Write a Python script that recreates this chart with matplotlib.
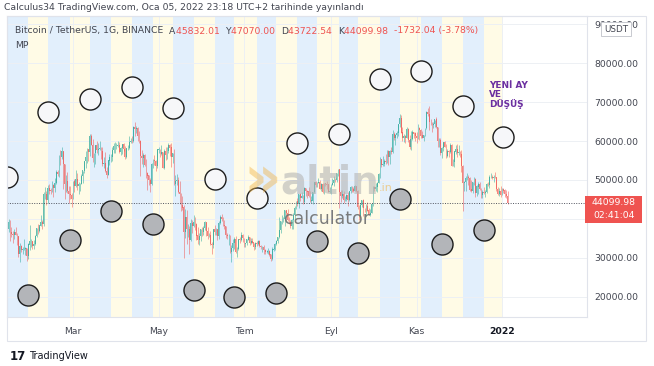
import matplotlib
matplotlib.use("Agg")
import matplotlib.pyplot as plt
import matplotlib.dates as mdates
from matplotlib.patches import Rectangle
import numpy as np

# ---------------- data (prices in thousand USDT) ----------------
first_open = 34.0
c_2021_01 = [37.4, 39.1, 36.7, 36.0, 35.8, 36.6, 35.9, 35.5, 30.9, 32.9, 32.1, 32.3, 32.3, 32.5, 30.4, 33.4, 34.3, 34.3, 33.1]
h_2021_01 = [37.6, 40.1, 39.7, 37.9, 36.8, 37.3, 37.8, 36.4, 35.6, 33.8, 33.4, 32.9, 34.9, 32.9, 32.6, 33.8, 38.5, 34.9, 34.3]
l_2021_01 = [32.4, 36.7, 34.4, 35.4, 33.9, 34.8, 35.8, 33.4, 30.1, 28.9, 31.4, 30.9, 31.9, 30.8, 29.2, 29.8, 31.9, 32.9, 32.3]

c_2021_02 = [33.5, 35.5, 37.6, 36.9, 38.3, 39.2, 38.8, 46.4, 46.4, 44.8, 48.0, 47.3, 47.2, 48.6, 47.9, 49.1, 52.1, 51.6, 55.9, 55.8, 57.4, 54.1, 48.9, 49.7, 47.1, 46.3, 46.1, 45.1]
h_2021_02 = [34.7, 35.9, 37.7, 38.7, 38.3, 40.9, 39.7, 46.8, 48.2, 47.3, 48.6, 48.9, 48.0, 49.7, 49.0, 50.6, 52.6, 52.5, 56.3, 57.6, 58.4, 57.5, 54.2, 51.4, 52.0, 48.4, 48.4, 46.7]
l_2021_02 = [32.3, 33.4, 35.4, 36.2, 36.6, 38.2, 37.4, 38.1, 45.0, 43.7, 44.0, 46.3, 46.3, 47.0, 45.6, 47.0, 48.9, 50.9, 50.7, 53.9, 55.5, 47.6, 45.0, 47.0, 46.7, 44.1, 45.0, 43.0]

c_2021_03 = [49.6, 48.4, 50.3, 48.4, 48.8, 48.9, 51.0, 52.4, 54.9, 55.9, 57.8, 57.2, 61.2, 59.0, 55.6, 56.9, 58.9, 57.6, 58.0, 58.1, 57.4, 54.1, 54.3, 52.3, 51.3, 55.0, 55.8, 55.8, 57.6, 58.7, 58.7]
h_2021_03 = [49.8, 50.2, 52.6, 51.8, 49.4, 49.2, 51.5, 52.4, 54.9, 57.4, 58.2, 58.0, 61.8, 61.7, 60.6, 56.9, 58.9, 60.1, 59.5, 59.9, 58.6, 58.4, 55.8, 57.2, 53.3, 55.1, 56.6, 56.6, 58.4, 59.4, 59.8]
l_2021_03 = [45.0, 47.0, 48.1, 47.5, 46.3, 47.1, 48.9, 49.3, 51.8, 53.0, 54.3, 55.0, 56.1, 58.9, 54.6, 53.3, 54.1, 57.0, 56.3, 57.8, 55.5, 53.7, 53.0, 52.0, 50.4, 51.3, 53.9, 54.7, 54.9, 57.0, 56.9]

c_2021_04 = [58.7, 59.0, 57.1, 58.2, 59.1, 58.0, 56.0, 58.1, 58.1, 59.8, 60.0, 59.9, 63.6, 63.0, 63.2, 61.3, 60.0, 56.2, 55.6, 56.4, 53.8, 51.7, 51.1, 50.0, 49.0, 54.0, 55.0, 54.8, 53.6, 57.8]
h_2021_04 = [59.5, 60.0, 59.8, 58.5, 59.3, 59.5, 58.7, 58.2, 58.9, 61.2, 60.7, 61.2, 63.8, 64.9, 63.8, 63.6, 62.5, 60.4, 57.6, 57.0, 56.8, 55.5, 52.1, 51.2, 50.6, 54.4, 55.5, 56.4, 55.2, 57.9]
l_2021_04 = [57.9, 58.4, 57.0, 56.5, 56.8, 57.4, 55.5, 55.7, 57.7, 57.9, 59.4, 59.4, 59.8, 61.3, 62.0, 60.0, 59.6, 51.0, 54.2, 53.4, 53.6, 50.4, 47.5, 48.8, 47.0, 48.8, 53.2, 53.9, 52.3, 53.1]

c_2021_05 = [57.8, 56.6, 57.2, 53.2, 57.5, 56.4, 57.4, 58.9, 58.3, 55.9, 56.8, 49.0, 49.7, 49.9, 46.8, 46.5, 43.5, 42.9, 36.7, 40.5, 37.3, 37.4, 34.7, 38.8, 38.3, 39.2, 38.5, 35.7, 34.6, 35.6, 37.3]
h_2021_05 = [58.5, 57.9, 58.9, 57.2, 57.9, 58.4, 58.6, 59.5, 59.3, 59.6, 57.0, 58.0, 51.4, 51.6, 50.7, 49.8, 46.6, 45.8, 43.6, 42.5, 42.2, 38.8, 38.3, 39.9, 39.8, 40.9, 40.4, 38.9, 37.9, 36.4, 37.5]
l_2021_05 = [57.0, 56.0, 56.5, 53.0, 52.9, 55.2, 55.3, 56.9, 56.2, 53.4, 54.4, 48.6, 46.0, 48.8, 46.6, 43.8, 42.0, 42.2, 30.0, 35.0, 33.5, 35.3, 31.1, 34.4, 36.4, 37.8, 37.2, 34.7, 33.6, 33.4, 34.2]

c_2021_06 = [36.7, 37.6, 39.2, 36.8, 35.5, 35.8, 33.6, 33.4, 37.4, 36.7, 37.3, 35.5, 39.0, 40.5, 40.1, 38.3, 38.1, 35.8, 35.5, 35.6, 31.6, 32.5, 33.7, 34.7, 31.6, 32.3, 34.7, 34.5, 35.9, 35.0]
h_2021_06 = [37.9, 38.2, 39.5, 39.3, 37.9, 36.5, 36.8, 34.1, 37.5, 38.4, 37.7, 37.4, 39.4, 41.1, 41.3, 40.5, 39.6, 38.2, 36.5, 36.1, 35.8, 33.3, 34.9, 35.3, 35.5, 32.7, 34.8, 35.3, 36.6, 36.1]
l_2021_06 = [35.7, 35.9, 37.2, 35.6, 34.8, 35.3, 33.4, 31.0, 32.4, 35.8, 35.9, 34.6, 34.8, 38.8, 39.5, 38.1, 37.4, 35.1, 34.8, 33.3, 31.3, 28.8, 31.7, 32.3, 31.3, 30.2, 32.0, 33.9, 34.2, 34.0]

c_2021_07 = [33.5, 33.8, 34.7, 35.3, 33.7, 34.2, 33.9, 32.9, 33.8, 33.5, 34.3, 33.1, 32.7, 32.8, 31.9, 31.4, 31.5, 31.8, 30.8, 29.8, 32.1, 32.3, 33.6, 34.3, 35.4, 37.2, 39.5, 40.0, 40.0, 42.2, 41.5]
h_2021_07 = [35.1, 33.9, 34.9, 35.9, 35.3, 35.1, 35.1, 33.9, 34.1, 34.3, 34.6, 34.7, 33.3, 33.1, 33.2, 32.2, 31.9, 32.4, 31.9, 31.1, 32.9, 32.6, 33.7, 34.5, 35.4, 40.6, 39.5, 40.9, 40.6, 42.3, 42.4]
l_2021_07 = [32.7, 32.7, 33.3, 34.5, 33.2, 33.5, 33.8, 32.1, 32.3, 33.0, 33.3, 32.7, 32.2, 31.6, 31.1, 31.0, 31.2, 31.1, 30.4, 29.3, 29.5, 31.7, 32.0, 33.4, 33.9, 35.2, 36.4, 38.8, 39.3, 38.3, 41.0]

c_2021_08 = [39.8, 39.1, 38.2, 39.7, 40.9, 42.8, 44.6, 43.8, 46.3, 45.5, 45.8, 44.3, 47.8, 47.1, 47.0, 45.9, 44.7, 44.7, 46.8, 49.3, 48.8, 49.2, 49.5, 47.7, 49.0, 46.9, 49.1, 48.9, 48.8, 47.0, 47.1]
h_2021_08 = [42.6, 40.5, 39.8, 39.9, 41.4, 43.4, 44.7, 45.3, 46.5, 46.7, 46.8, 46.2, 48.1, 48.0, 47.4, 48.1, 47.2, 46.0, 47.0, 49.4, 49.8, 49.5, 50.5, 49.9, 49.2, 49.3, 49.2, 49.3, 49.7, 48.9, 48.3]
l_2021_08 = [39.4, 38.7, 37.6, 37.5, 37.3, 39.9, 42.5, 43.4, 42.8, 44.7, 45.3, 43.8, 44.2, 45.9, 45.5, 45.7, 44.4, 44.2, 43.9, 46.6, 48.3, 48.1, 49.1, 47.6, 47.2, 46.6, 46.4, 48.4, 47.8, 46.9, 46.7]

c_2021_09 = [48.8, 49.2, 50.0, 49.9, 51.8, 52.7, 46.9, 46.0, 46.4, 44.8, 45.2, 46.0, 44.9, 47.1, 48.1, 47.7, 47.3, 48.3, 47.2, 43.0, 40.7, 43.5, 44.9, 42.8, 42.7, 43.2, 42.1, 41.0, 41.5, 43.8]
h_2021_09 = [49.0, 50.4, 51.0, 50.6, 51.9, 52.8, 52.9, 47.4, 47.4, 47.1, 45.9, 46.4, 46.9, 47.3, 48.5, 48.5, 48.2, 48.8, 48.4, 47.4, 43.6, 44.0, 44.9, 45.0, 42.9, 43.9, 44.4, 42.8, 42.6, 44.1]
l_2021_09 = [46.5, 48.6, 48.4, 49.4, 49.5, 50.9, 42.8, 44.4, 45.5, 44.1, 44.7, 44.7, 43.4, 44.7, 46.7, 47.0, 46.8, 47.1, 46.8, 42.5, 39.6, 40.6, 43.1, 40.7, 41.7, 40.8, 42.1, 40.9, 40.8, 41.4]

c_2021_10 = [48.1, 47.6, 48.2, 49.2, 51.5, 55.3, 53.8, 54.0, 54.9, 54.7, 57.5, 56.0, 57.4, 57.3, 61.7, 60.9, 61.5, 62.0, 64.3, 66.0, 62.2, 60.7, 61.3, 60.9, 63.1, 60.3, 58.4, 60.6, 62.3, 61.9, 61.3]
h_2021_10 = [48.5, 48.4, 49.2, 49.5, 51.9, 55.8, 55.3, 56.1, 55.5, 56.6, 57.8, 57.7, 57.8, 58.5, 62.9, 62.4, 61.7, 62.6, 64.5, 67.0, 66.6, 63.7, 61.7, 61.5, 63.7, 63.3, 61.5, 62.5, 62.9, 62.3, 62.4]
l_2021_10 = [43.3, 47.1, 47.2, 46.9, 49.1, 50.4, 53.4, 53.6, 53.7, 54.1, 54.4, 53.9, 54.2, 56.8, 56.9, 60.2, 58.9, 60.9, 61.3, 63.5, 62.0, 60.0, 59.7, 59.5, 60.7, 59.8, 58.0, 57.8, 60.2, 60.7, 59.9]

c_2021_11 = [60.9, 63.2, 62.9, 61.4, 60.9, 61.5, 63.3, 67.5, 66.9, 64.9, 64.8, 64.1, 64.4, 65.5, 63.6, 60.1, 60.3, 56.9, 58.1, 59.7, 58.6, 56.2, 57.5, 57.1, 59.0, 53.7, 54.7, 57.3, 57.8, 57.0]
h_2021_11 = [62.4, 64.3, 63.5, 63.1, 62.6, 61.6, 63.3, 67.8, 68.5, 69.0, 65.6, 65.0, 64.9, 65.5, 66.3, 63.6, 60.8, 60.9, 58.4, 59.8, 60.0, 59.3, 57.9, 57.8, 59.4, 59.2, 55.3, 57.4, 58.9, 59.2]
l_2021_11 = [59.4, 60.6, 60.4, 60.7, 60.7, 60.1, 61.4, 63.1, 66.4, 62.8, 64.1, 62.3, 63.3, 63.6, 63.4, 58.6, 58.4, 56.5, 55.6, 57.4, 58.5, 55.6, 55.8, 55.9, 57.0, 53.5, 53.6, 53.3, 56.7, 55.9]

c_2021_12 = [57.2, 56.5, 53.6, 49.2, 49.4, 50.4, 50.6, 50.5, 47.5, 47.1, 49.4, 50.1, 46.7, 48.3, 48.9, 47.6, 46.1, 46.8, 46.7, 46.9, 48.9, 48.6, 50.8, 50.8, 50.4, 50.8, 50.6, 47.6, 46.5, 47.1, 46.2]
h_2021_12 = [59.0, 57.4, 57.6, 53.9, 49.7, 50.9, 51.9, 51.2, 50.8, 50.1, 49.5, 50.8, 50.4, 48.7, 49.5, 49.4, 48.0, 47.4, 48.3, 47.5, 49.3, 49.6, 51.4, 51.9, 51.2, 51.3, 52.1, 50.7, 48.1, 47.9, 48.5]
l_2021_12 = [56.5, 55.8, 52.0, 42.0, 47.1, 47.1, 50.0, 48.6, 47.3, 46.9, 46.6, 48.6, 45.7, 46.0, 46.5, 47.5, 45.5, 45.5, 46.4, 45.6, 46.6, 48.4, 48.0, 50.4, 50.2, 49.5, 50.5, 47.3, 46.1, 45.9, 45.7]

c_2022_01 = [47.7, 47.3, 46.4, 45.83201, 44.09998]
h_2022_01 = [47.9, 47.9, 47.6, 47.5, 47.07]
l_2022_01 = [46.2, 46.7, 45.7, 45.5, 43.72254]

first_day = "2021-01-13"

# moon phases: new moon (white circle), full moon (grey circle), circle level in k USDT
new_moon_dates = ["2021-01-13", "2021-02-11", "2021-03-13", "2021-04-12", "2021-05-11", "2021-06-10",
                  "2021-07-10", "2021-08-08", "2021-09-07", "2021-10-06", "2021-11-04", "2021-12-04", "2022-01-02"]
new_moon_level = [50.8, 67.5, 70.8, 73.9, 68.5, 50.3, 45.4, 59.5, 61.8, 76.0, 78.0, 69.0, 61.0]
full_moon_dates = ["2021-01-28", "2021-02-27", "2021-03-28", "2021-04-27", "2021-05-26", "2021-06-24",
                   "2021-07-24", "2021-08-22", "2021-09-20", "2021-10-20", "2021-11-19", "2021-12-19"]
full_moon_level = [20.4, 34.6, 42.0, 38.7, 21.7, 20.0, 20.9, 34.3, 31.2, 45.1, 33.5, 37.1]

price_ticks = [20000, 30000, 40000, 50000, 60000, 70000, 80000, 90000]
time_ticks = ["2021-03-01", "2021-05-01", "2021-07-01", "2021-09-01", "2021-11-01", "2022-01-01"]
time_labels = ["Mar", "May", "Tem", "Eyl", "Kas", "2022"]

header = "Calculus34 TradingView.com, Oca 05, 2022 23:18 UTC+2 tarihinde yayınlandı"
legend_parts = [("Bitcoin / TetherUS, 1G, BINANCE  ", "#434651"),
                ("A", "#434651"), ("45832.01  ", "#ef5350"),
                ("Y", "#434651"), ("47070.00  ", "#ef5350"),
                ("D", "#434651"), ("43722.54  ", "#ef5350"),
                ("K", "#434651"), ("44099.98  ", "#ef5350"),
                ("-1732.04 (-3.78%)", "#ef5350")]
note_text = "YEN\u0130 AY\nVE\nD\u00dc\u015e\u00dc\u015e"
note_date, note_level = "2021-12-23", 75500
countdown = "02:41:04"

# ---------------- assemble ----------------
closes = 1000 * np.array(c_2021_01 + c_2021_02 + c_2021_03 + c_2021_04 + c_2021_05 + c_2021_06 +
                         c_2021_07 + c_2021_08 + c_2021_09 + c_2021_10 + c_2021_11 + c_2021_12 + c_2022_01)
highs = 1000 * np.array(h_2021_01 + h_2021_02 + h_2021_03 + h_2021_04 + h_2021_05 + h_2021_06 +
                        h_2021_07 + h_2021_08 + h_2021_09 + h_2021_10 + h_2021_11 + h_2021_12 + h_2022_01)
lows = 1000 * np.array(l_2021_01 + l_2021_02 + l_2021_03 + l_2021_04 + l_2021_05 + l_2021_06 +
                       l_2021_07 + l_2021_08 + l_2021_09 + l_2021_10 + l_2021_11 + l_2021_12 + l_2022_01)
opens = np.concatenate([[first_open * 1000], closes[:-1]])
n = len(closes)
dates = np.datetime64(first_day) + np.arange(n)
xd = mdates.date2num(dates)
highs = np.maximum(highs, np.maximum(opens, closes))
lows = np.minimum(lows, np.minimum(opens, closes))

W, H = 654, 366
FS = 6.7
fig = plt.figure(figsize=(W / 100, H / 100), dpi=100)
fig.patch.set_facecolor("white")

def fx(x):
    return x / W

def fy(y):
    return 1 - y / H

L, R, T, B = 7, 587, 16, 317
ax = fig.add_axes([fx(L), fy(B), (R - L) / W, (B - T) / H])
ax.set_facecolor("white")

# moon-phase background bands
nm = mdates.date2num(np.array(new_moon_dates, dtype="datetime64[D]"))
fm = mdates.date2num(np.array(full_moon_dates, dtype="datetime64[D]"))
for i in range(len(fm)):
    ax.axvspan(nm[i], fm[i], color="#e2effc", lw=0, zorder=0.1)
    ax.axvspan(fm[i], nm[i + 1], color="#fffbe6", lw=0, zorder=0.1)

# grid
for p in price_ticks:
    ax.axhline(p, color="#edf0f4", lw=0.7, zorder=0.2)
tt = mdates.date2num(np.array(time_ticks, dtype="datetime64[D]"))
for t in tt:
    ax.axvline(t, color="#edf0f4", lw=0.7, zorder=0.2)

# candles
up = closes >= opens
col = np.where(up, "#26a69a", "#ef5350")
ax.vlines(xd, lows, highs, colors=col, lw=0.5, zorder=2, alpha=0.7)
ax.bar(xd, np.abs(closes - opens) + 60, bottom=np.minimum(opens, closes), width=0.6,
       color=col, lw=0, zorder=2.1, alpha=0.7)

# last price line
ax.axhline(closes[-1], color="#50535e", lw=0.7, ls=(0, (1, 1.5)), zorder=2.5)

# moon circles
ax.scatter(nm, 1000 * np.array(new_moon_level), s=230, facecolor="#f6f7f9", edgecolor="#1c1c1c",
           lw=1.0, zorder=3)
ax.scatter(fm, 1000 * np.array(full_moon_level), s=230, facecolor="#b3b5b9", edgecolor="#1c1c1c",
           lw=1.0, zorder=3)

x0 = mdates.date2num(np.datetime64("2021-01-01"))
ax.set_xlim(x0 + 11.9, x0 + 425.6)
ax.set_ylim(14780, 92160)

ax.yaxis.tick_right()
ax.set_yticks(price_ticks)
# the 40000 label is hidden behind the last-price tag in the original
ax.set_yticklabels(["" if p == 40000 else f"{p:.2f}" for p in price_ticks])
ax.set_xticks(tt)
ax.set_xticklabels(time_labels)
ax.tick_params(axis="both", length=0, labelsize=FS, labelcolor="#434651")
ax.tick_params(axis="y", pad=5)
ax.tick_params(axis="x", pad=7)
ax.get_xticklabels()[-1].set_fontweight("bold")
ax.get_xticklabels()[-1].set_color("#131722")
for s in ax.spines.values():
    s.set_color("#e0e3eb")
    s.set_linewidth(0.8)

# outer frame (price & time scales)
fig.patches.append(Rectangle((fx(L), fy(341)), (646 - L) / W, (341 - T) / H, transform=fig.transFigure,
                             fill=False, edgecolor="#e0e3eb", lw=0.8))

# texts
fig.text(fx(4), fy(8), header, fontsize=FS, color="#434651", va="center", ha="left")
fig.canvas.draw()
rend = fig.canvas.get_renderer()
xpos = fx(15)
for txt, c in legend_parts:
    t = fig.text(xpos, fy(31), txt, fontsize=FS, color=c, va="center", ha="left")
    bb = t.get_window_extent(renderer=rend)
    xpos = fig.transFigure.inverted().transform((bb.x1, 0))[0]
fig.text(fx(15), fy(45), "MP", fontsize=FS, color="#434651", va="center", ha="left")

ax.text(mdates.date2num(np.datetime64(note_date)), note_level, note_text,
        fontsize=6.4, color="#6b2fa0", fontweight="bold", va="top", ha="left", linespacing=1.0, zorder=4)

# watermark
fig.text(fx(262), fy(180), "\u00bb", fontsize=42, color="#f1b54a", alpha=0.45, ha="center", va="center",
         fontweight="bold")
fig.text(fx(330), fy(183), "altin", fontsize=28, color="#b5b5b5", alpha=0.6, ha="center", va="center",
         fontweight="bold")
fig.text(fx(386), fy(188), ".in", fontsize=8, color="#f1b54a", alpha=0.6, ha="center", va="center")
fig.text(fx(327), fy(219), "calculator", fontsize=12.5, color="#6e6e6e", alpha=0.9, ha="center", va="center")

# last price label
ypix = ax.transData.transform((0, closes[-1]))[1]
yl = ypix / H
fig.patches.append(Rectangle((fx(585), yl - 20 / H), 57 / W, 27 / H, transform=fig.transFigure,
                             facecolor="#ef5350", edgecolor="none", zorder=5))
fig.text(fx(614), yl, f"{closes[-1]:.2f}", fontsize=FS, color="white", ha="center", va="center", zorder=6)
fig.text(fx(614), yl - 13 / H, countdown, fontsize=FS, color="white", ha="center", va="center", zorder=6)

# currency box
fig.patches.append(Rectangle((fx(601), fy(36)), 30 / W, 14 / H, transform=fig.transFigure,
                             facecolor="white", edgecolor="#c8cad0", lw=0.7, zorder=5))
fig.text(fx(616), fy(29), "USDT", fontsize=6.3, color="#434651", ha="center", va="center", zorder=6)

# TradingView logo
fig.text(fx(10), fy(356), "17", fontsize=8.5, color="#131722", fontweight="heavy", ha="left", va="center")
fig.text(fx(29), fy(356), "TradingView", fontsize=7, color="#131722", ha="left", va="center")

fig.savefig("out.png", dpi=100, facecolor="white")
